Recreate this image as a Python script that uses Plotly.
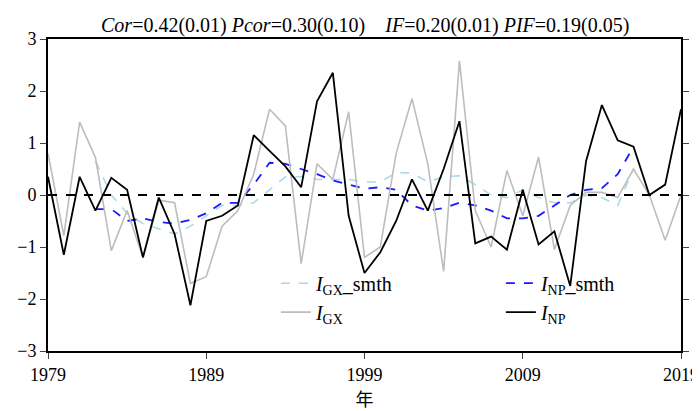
import plotly.graph_objects as go

years = list(range(1979, 2020))
i_np = [0.35, -1.15, 0.35, -0.3, 0.33, 0.1, -1.2, -0.05, -0.75, -2.12,
        -0.5, -0.4, -0.2, 1.15, 0.85, 0.55, 0.15, 1.8, 2.35, -0.4,
        -1.5, -1.1, -0.5, 0.3, -0.3, 0.5, 1.42, -0.93, -0.8, -1.05,
        0.1, -0.95, -0.7, -1.75, 0.65, 1.73, 1.05, 0.93, 0.0, 0.2, 1.65]
i_gx = [0.8, -0.78, 1.4, 0.72, -1.07, -0.3, -1.2, -0.1, -0.15, -1.7,
        -1.57, -0.6, -0.3, 0.4, 1.65, 1.33, -1.32, 0.6, 0.3, 1.6,
        -1.2, -1.0, 0.8, 1.85, 0.6, -1.47, 2.58, -0.3, -1.0, 0.47,
        -0.4, 0.73, -1.05, -0.2, 0.05, 0.05, -0.05, 0.5, 0.0, -0.87, 0.0]
smth_years = list(range(1982, 2017))
gx_smth = [0.65, 0.0, -0.35, -0.55, -0.65, -0.75, -0.6, -0.4, -0.2, -0.2,
           -0.15, 0.1, 0.35, 0.35, 0.3, 0.3, 0.3, 0.25, 0.25, 0.43,
           0.42, 0.25, 0.35, 0.37, 0.2, 0.0, -0.05, 0.1, -0.05, -0.15,
           -0.15, 0.0, -0.05, -0.2, 0.5]
np_smth = [-0.27, -0.27, -0.5, -0.45, -0.52, -0.55, -0.48, -0.35, -0.15, -0.15,
           0.2, 0.62, 0.6, 0.5, 0.4, 0.28, 0.2, 0.12, 0.15, 0.1,
           -0.2, -0.3, -0.25, -0.15, -0.2, -0.3, -0.45, -0.45, -0.4, -0.2,
           0.0, 0.1, 0.13, 0.4, 0.93]

font = "Liberation Serif"
fig = go.Figure()
fig.add_hline(y=0, line=dict(color="black", width=2, dash="dash"))
fig.add_trace(go.Scatter(x=smth_years, y=gx_smth, mode="lines", name="<i>I</i><sub>GX</sub>_smth",
                         line=dict(color="#a6d8ea", width=1.5, dash="dash")))
fig.add_trace(go.Scatter(x=smth_years, y=np_smth, mode="lines", name="<i>I</i><sub>NP</sub>_smth",
                         line=dict(color="#1a1aff", width=1.8, dash="dash")))
fig.add_trace(go.Scatter(x=years, y=i_gx, mode="lines", name="<i>I</i><sub>GX</sub>",
                         line=dict(color="#bdbdbd", width=1.6)))
fig.add_trace(go.Scatter(x=years, y=i_np, mode="lines", name="<i>I</i><sub>NP</sub>",
                         line=dict(color="black", width=1.8)))

fig.update_layout(
    width=700, height=411,
    margin=dict(l=40, r=27, t=31, b=68, autoexpand=False),
    paper_bgcolor="white", plot_bgcolor="white",
    font=dict(family=font, size=18, color="black"),
    legend=dict(orientation="h", x=0.36, y=0.28, xanchor="left", yanchor="top",
                entrywidth=180, bgcolor="rgba(0,0,0,0)", font=dict(size=20),
                traceorder="normal", tracegroupgap=0),
    annotations=[dict(text="<i>Cor</i>=0.42(0.01) <i>Pcor</i>=0.30(0.10)    <i>IF</i>=0.20(0.01) <i>PIF</i>=0.19(0.05)",
                      x=0.5, y=1.0, xref="paper", yref="paper", xanchor="center", yanchor="bottom",
                      showarrow=False, font=dict(size=20))],
)
fig.update_xaxes(range=[1979, 2019], tickvals=[1979, 1989, 1999, 2009, 2019],
                 ticks="outside", ticklen=6, showgrid=False, zeroline=False,
                 showline=True, linecolor="black", linewidth=2, mirror=True,
                 title=dict(text="年", standoff=2, font=dict(size=18, family="Noto Sans CJK SC")))
fig.update_yaxes(range=[-3, 3], dtick=1, ticks="outside", ticklen=6, showgrid=False,
                 zeroline=False, showline=True, linecolor="black", linewidth=2, mirror="ticks")
fig.write_html("out.html")
